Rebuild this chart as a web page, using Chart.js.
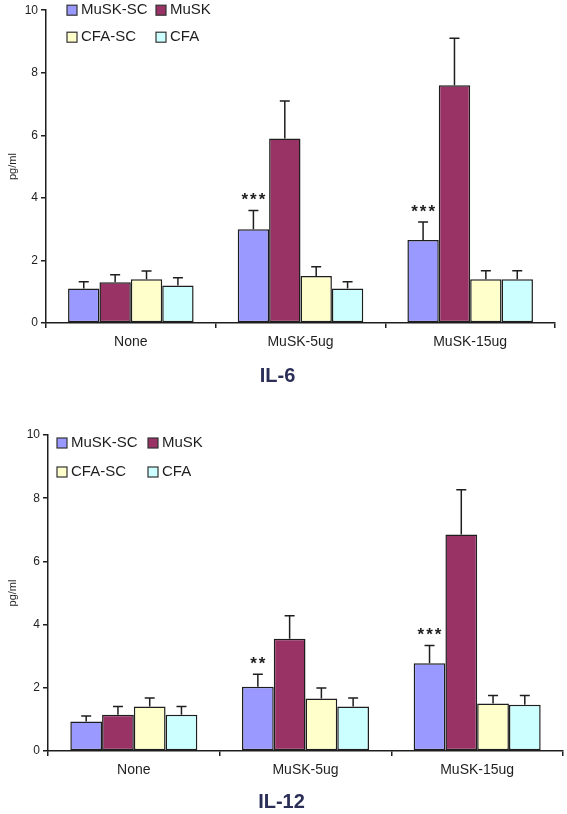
<!DOCTYPE html>
<html lang="en">
<head>
  <meta charset="UTF-8" />
  <title>IL-6 / IL-12</title>
  <script src="https://cdn.jsdelivr.net/npm/chart.js"></script>
  <style>
    body { margin: 0; background: #fff; }
    canvas { display: block; }
  </style>
</head>
<body>
  <canvas id="il6Chart" width="567" height="400"></canvas>
  <canvas id="il12Chart" width="567" height="414"></canvas>

  <script>
    // Data
    const categories = ['None', 'MuSK-5ug', 'MuSK-15ug'];
    const seriesNames = ['MuSK-SC', 'MuSK', 'CFA-SC', 'CFA'];
    const yTicks = [0, 2, 4, 6, 8, 10];

    const il6MuskSc = [1.1, 3.0, 2.65],  il6MuskScErr = [0.22, 0.6, 0.58];
    const il6Musk   = [1.3, 5.9, 7.6],   il6MuskErr   = [0.24, 1.2, 1.5];
    const il6CfaSc  = [1.4, 1.5, 1.4],   il6CfaScErr  = [0.26, 0.3, 0.27];
    const il6Cfa    = [1.2, 1.1, 1.4],   il6CfaErr    = [0.25, 0.22, 0.27];
    const il6Sig    = ['', '***', '***'];

    const il12MuskSc = [0.93, 2.03, 2.78], il12MuskScErr = [0.18, 0.4, 0.56];
    const il12Musk   = [1.15, 3.55, 6.85], il12MuskErr   = [0.26, 0.73, 1.42];
    const il12CfaSc  = [1.41, 1.66, 1.5],  il12CfaScErr  = [0.27, 0.33, 0.26];
    const il12Cfa    = [1.15, 1.41, 1.46], il12CfaErr    = [0.26, 0.27, 0.3];
    const il12Sig    = ['', '**', '***'];

    const colors = ['#9999ff', '#993366', '#ffffcc', '#ccffff'];
    const ink = '#1e1e1e';
    const font = '"Liberation Sans", Arial';

    // error bars, asterisks and the in-plot legend
    const extras = {
      id: 'extras',
      afterDatasetsDraw(chart, args, opts) {
        const ctx = chart.ctx, y = chart.scales.y, area = chart.chartArea;
        ctx.save();
        ctx.strokeStyle = ink; ctx.lineWidth = 1.5;
        chart.data.datasets.forEach((ds, di) => {
          chart.getDatasetMeta(di).data.forEach((bar, i) => {
            const top = y.getPixelForValue(ds.data[i] + ds.err[i]);
            ctx.beginPath();
            ctx.moveTo(bar.x, bar.y); ctx.lineTo(bar.x, top);
            ctx.moveTo(bar.x - 5, top); ctx.lineTo(bar.x + 5, top);
            ctx.stroke();
            if (di === 0 && opts.sig[i]) {
              ctx.fillStyle = ink; ctx.font = 'bold 17px ' + font;
              ctx.letterSpacing = '2px';
              ctx.textAlign = 'center'; ctx.textBaseline = 'middle';
              ctx.fillText(opts.sig[i], bar.x + 1, top - 10);
              ctx.letterSpacing = '0px';
            }
          });
        });
        // legend
        ctx.font = '15px ' + font;
        ctx.textAlign = 'left'; ctx.textBaseline = 'middle';
        seriesNames.forEach((name, k) => {
          const lx = area.left + opts.lx + (k % 2) * opts.col;
          const ly = area.top + opts.ly + Math.floor(k / 2) * opts.row;
          ctx.fillStyle = colors[k];
          ctx.fillRect(lx, ly - 5, 10, 10);
          ctx.lineWidth = 1.2; ctx.strokeStyle = '#333';
          ctx.strokeRect(lx, ly - 5, 10, 10);
          ctx.fillStyle = ink;
          ctx.fillText(name, lx + 14, ly);
        });
        ctx.restore();
      }
    };

    function makeChart(id, values, errs, sig, title, pad, titlePad, legendPos, axisW) {
      return new Chart(document.getElementById(id), {
        type: 'bar',
        data: {
          labels: categories,
          datasets: seriesNames.map((name, k) => ({
            label: name, data: values[k], err: errs[k],
            backgroundColor: colors[k], borderColor: ink, borderWidth: 1.5,
            borderSkipped: false, categoryPercentage: 0.74, barPercentage: 1.0
          }))
        },
        plugins: [extras],
        options: {
          responsive: false, animation: false,
          layout: { padding: pad },
          plugins: {
            legend: { display: false },
            tooltip: { enabled: false },
            title: {
              display: true, text: title, position: 'bottom', color: '#2b2f58',
              font: { family: font, size: 20, weight: 'bold' },
              padding: { top: titlePad, bottom: 0 }
            },
            extras: Object.assign({ sig }, legendPos)
          },
          scales: {
            x: {
              grid: { display: true, drawOnChartArea: false, tickLength: 5, color: ink, lineWidth: 1.5 },
              border: { display: true, color: ink, width: 1.5 },
              ticks: { color: ink, padding: 6, font: { family: font, size: 14 } },
              afterFit: s => { s.height = 32; }
            },
            y: {
              min: 0, max: 10,
              afterBuildTicks: s => { s.ticks = yTicks.map(v => ({ value: v })); },
              grid: { drawOnChartArea: false, tickLength: 5, color: ink, lineWidth: 1.5 },
              border: { display: true, color: ink, width: 1.5 },
              ticks: { color: ink, padding: 3, font: { family: font, size: 12 } },
              title: { display: true, text: 'pg/ml', color: ink, padding: { top: 6, bottom: 0 },
                       font: { family: font, size: 11 } },
              afterFit: s => { s.width = axisW; }
            }
          }
        }
      });
    }

    makeChart('il6Chart',
      [il6MuskSc, il6Musk, il6CfaSc, il6Cfa],
      [il6MuskScErr, il6MuskErr, il6CfaScErr, il6CfaErr],
      il6Sig, 'IL-6',
      { top: 10, right: 12, bottom: 12, left: 0 }, 9,
      { lx: 21, col: 89, ly: 0, row: 27 }, 46);

    makeChart('il12Chart',
      [il12MuskSc, il12Musk, il12CfaSc, il12Cfa],
      [il12MuskScErr, il12MuskErr, il12CfaScErr, il12CfaErr],
      il12Sig, 'IL-12',
      { top: 35, right: 4, bottom: 0, left: 0 }, 7,
      { lx: 9, col: 91, ly: 8, row: 29 }, 48);
  </script>
</body>
</html>
